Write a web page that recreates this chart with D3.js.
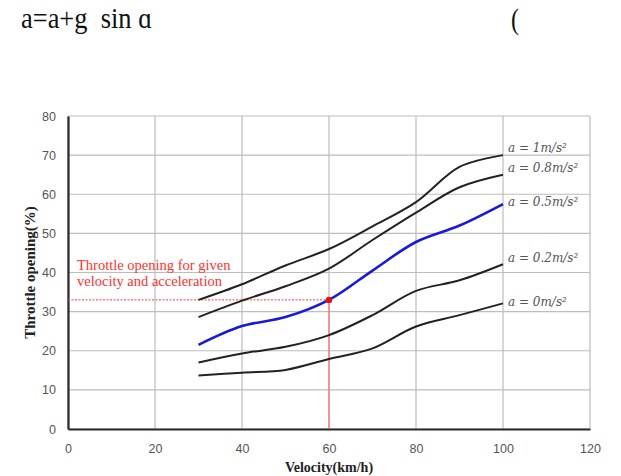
<!DOCTYPE html>
<html><head><meta charset="utf-8">
<script src="https://cdn.jsdelivr.net/npm/d3@7"></script>
<style>body{margin:0;background:#fff}svg{display:block}</style>
</head><body>
<svg id="c" width="621" height="476"></svg>
<script>
const velocity = [30, 40, 50, 60, 70, 80, 90, 100];
const a1   = [33.0, 37.0, 41.8, 46.0, 51.8, 58.0, 67.0, 70.0];
const a08  = [28.6, 32.8, 36.5, 41.0, 48.3, 55.3, 61.8, 65.0];
const a05  = [21.5, 26.3, 28.6, 33.0, 40.5, 47.8, 52.0, 57.5];
const a02  = [17.0, 19.3, 21.0, 24.0, 29.1, 35.3, 38.0, 42.1];
const a0   = [13.7, 14.4, 15.1, 17.9, 20.6, 26.2, 29.1, 32.1];
const seriesNames = ["a = 1m/s²", "a = 0.8m/s²", "a = 0.5m/s²", "a = 0.2m/s²", "a = 0m/s²"];
const seriesColors = ["#222", "#222", "#1a1ad6", "#222", "#222"];
const xTicks = [0, 20, 40, 60, 80, 100, 120];
const yTicks = [0, 10, 20, 30, 40, 50, 60, 70, 80];
const pointV = 60, pointT = 33;

const svg = d3.select("#c");
const L = 68, R = 590, T = 116, B = 429;
const x = d3.scaleLinear().domain([0, 120]).range([L, R]);
const y = d3.scaleLinear().domain([0, 80]).range([B, T]);

// header formula
svg.append("text").attr("x", 21).attr("y", 28).attr("font-family", "Liberation Serif, serif")
  .attr("font-size", 30).attr("fill", "#111")
  .attr("textLength", 131).attr("lengthAdjust", "spacingAndGlyphs")
  .text("a=a+g\u00a0\u00a0sin \u0251");
svg.append("text").attr("x", 511).attr("y", 29).attr("font-family", "Liberation Serif, serif")
  .attr("font-size", 30).attr("fill", "#111")
  .attr("textLength", 8).attr("lengthAdjust", "spacingAndGlyphs").text("(");

// grid
const grid = svg.append("g").attr("stroke", "#bdbdbd").attr("stroke-width", 1.2);
xTicks.forEach(t => grid.append("line").attr("x1", x(t)).attr("x2", x(t)).attr("y1", T).attr("y2", B));
yTicks.forEach(t => grid.append("line").attr("x1", L).attr("x2", R).attr("y1", y(t)).attr("y2", y(t)));

// axes
const xa = svg.append("g").attr("transform", `translate(0,${B})`)
  .call(d3.axisBottom(x).tickValues(xTicks).tickSize(0).tickPadding(15));
const ya = svg.append("g").attr("transform", `translate(${L},0)`)
  .call(d3.axisLeft(y).tickValues(yTicks).tickSize(0).tickPadding(12));
[xa, ya].forEach(g => {
  g.select(".domain").attr("stroke", "#2a2a2a").attr("stroke-width", 2.2);
  g.selectAll("text").attr("font-family", "Liberation Sans, Arial, sans-serif")
    .attr("font-size", 12.5).attr("fill", "#555");
});

// red guide lines
svg.append("line").attr("x1", L).attr("x2", x(pointV)).attr("y1", y(pointT)).attr("y2", y(pointT))
  .attr("stroke", "#ff3a3a").attr("stroke-width", 1).attr("stroke-dasharray", "2,1.5");
svg.append("line").attr("x1", x(pointV)).attr("x2", x(pointV)).attr("y1", y(pointT)).attr("y2", B - 1)
  .attr("stroke", "#ff7070").attr("stroke-width", 1.3);

// curves
const allSeries = [a1, a08, a05, a02, a0];
const line = d3.line().x((d, i) => x(velocity[i])).y(d => y(d)).curve(d3.curveCatmullRom.alpha(0.5));
allSeries.forEach((s, k) => {
  svg.append("path").datum(s).attr("d", line).attr("fill", "none")
    .attr("stroke", seriesColors[k]).attr("stroke-width", k === 2 ? 2.6 : 2);
});

// point
svg.append("circle").attr("cx", x(pointV)).attr("cy", y(pointT)).attr("r", 3.2).attr("fill", "#e01010");

// series labels
const labelY = [148, 168, 202, 258, 302];
allSeries.forEach((s, k) => {
  svg.append("text").attr("x", x(100) + 5).attr("y", labelY[k]).attr("dy", "0.35em")
    .attr("font-family", "DejaVu Serif, serif").attr("font-style", "italic")
    .attr("font-size", 12).attr("fill", "#555").text(seriesNames[k]);
});

// annotation
const ann = svg.append("text").attr("font-family", "Liberation Serif, serif").attr("font-size", 14.5).attr("fill", "#ff3030");
ann.append("tspan").attr("x", 77).attr("y", 270).text("Throttle opening  for given");
ann.append("tspan").attr("x", 77).attr("y", 286).text("velocity and acceleration");

// axis titles
svg.append("text").attr("transform", `translate(35,${(T + B) / 2}) rotate(-90)`)
  .attr("text-anchor", "middle").attr("font-family", "Liberation Serif, serif").attr("font-weight", "bold")
  .attr("font-size", 15).attr("fill", "#222").text("Throttle  opening(%)");
svg.append("text").attr("x", x(60)).attr("y", 472).attr("text-anchor", "middle")
  .attr("font-family", "Liberation Serif, serif").attr("font-weight", "bold")
  .attr("font-size", 14).attr("fill", "#222").text("Velocity(km/h)");
</script>
</body></html>
